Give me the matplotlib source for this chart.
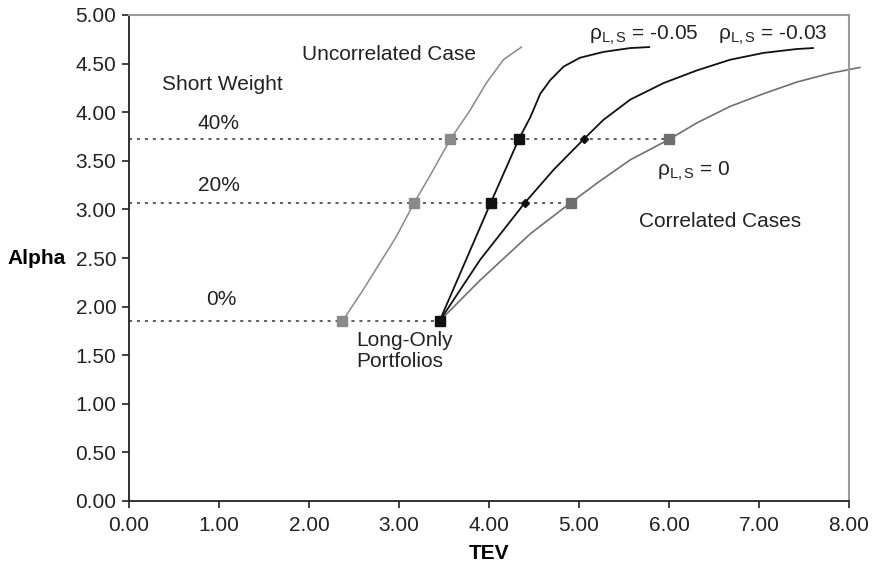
import matplotlib
matplotlib.use("Agg")
import matplotlib.pyplot as plt

plt.rcParams["font.family"] = ["Liberation Sans", "DejaVu Sans"]
plt.rcParams["mathtext.fontset"] = "custom"
plt.rcParams["mathtext.rm"] = "Liberation Sans"
plt.rcParams["mathtext.it"] = "Liberation Sans"

# Efficient-frontier curves (TEV, Alpha)
uncorr_tev = [2.37, 2.60, 2.97, 3.17, 3.34, 3.57, 3.79, 3.97, 4.16, 4.36]
uncorr_alpha = [1.85, 2.17, 2.72, 3.07, 3.34, 3.72, 4.02, 4.30, 4.54, 4.67]

rho005_tev = [3.45, 4.02, 4.33, 4.46, 4.57, 4.68, 4.83, 5.01, 5.27, 5.57, 5.78]
rho005_alpha = [1.85, 3.07, 3.72, 3.95, 4.19, 4.33, 4.47, 4.56, 4.62, 4.66, 4.67]

rho003_tev = [3.45, 3.90, 4.40, 4.72, 5.05, 5.27, 5.57, 5.94, 6.31, 6.68, 7.05, 7.42, 7.60]
rho003_alpha = [1.85, 2.48, 3.07, 3.41, 3.72, 3.92, 4.13, 4.30, 4.43, 4.54, 4.61, 4.65, 4.66]

rho0_tev = [3.45, 3.90, 4.46, 4.91, 5.20, 5.57, 6.00, 6.31, 6.68, 7.05, 7.42, 7.79, 8.12]
rho0_alpha = [1.85, 2.27, 2.75, 3.07, 3.27, 3.51, 3.72, 3.89, 4.06, 4.19, 4.31, 4.40, 4.46]

# Portfolio points at 0%, 20% and 40% short weight
weight_labels = ["0%", "20%", "40%"]
weight_alpha = [1.85, 3.07, 3.72]
uncorr_pts = [2.37, 3.17, 3.57]
rho005_pts = [3.45, 4.02, 4.33]
rho003_pts = [4.40, 5.05]
rho0_pts = [4.91, 6.00]

fig = plt.figure(figsize=(8.76, 5.76), dpi=100)
ax = fig.add_axes([129 / 876, 75 / 576, 720 / 876, 486 / 576])

# dotted reference levels
dot = dict(color="#333333", lw=1.1, linestyle=(0, (2, 3.2)), zorder=1)
ax.plot([0, rho005_pts[0]], [weight_alpha[0]] * 2, **dot)
ax.plot([0, rho0_pts[0]], [weight_alpha[1]] * 2, **dot)
ax.plot([0, rho0_pts[1]], [weight_alpha[2]] * 2, **dot)

ax.plot(uncorr_tev, uncorr_alpha, color="#8a8a8a", lw=1.1, zorder=2)
ax.plot(rho0_tev, rho0_alpha, color="#707070", lw=1.2, zorder=2, clip_on=False)
ax.plot(rho003_tev, rho003_alpha, color="#111111", lw=1.3, zorder=3)
ax.plot(rho005_tev, rho005_alpha, color="#111111", lw=1.3, zorder=3)

ax.plot(uncorr_pts, weight_alpha, ls="none", marker="s", ms=7, color="#8a8a8a", zorder=4)
ax.plot(rho0_pts, weight_alpha[1:], ls="none", marker="s", ms=7, color="#6e6e6e", zorder=4)
ax.plot(rho003_pts, weight_alpha[1:], ls="none", marker="D", ms=4.5, color="#111111", zorder=5)
ax.plot(rho005_pts, weight_alpha, ls="none", marker="s", ms=7.5, color="#111111", zorder=5)

fs = 15
ax.text(0.37, 4.29, "Short Weight", fontsize=fs, va="center", color="#222222")
ax.text(1.0, 3.88, weight_labels[2], fontsize=fs, ha="center", va="center", color="#222222")
ax.text(1.0, 3.25, weight_labels[1], fontsize=fs, ha="center", va="center", color="#222222")
ax.text(1.03, 2.07, weight_labels[0], fontsize=fs, ha="center", va="center", color="#222222")
ax.text(1.92, 4.59, "Uncorrelated Case", fontsize=fs, va="center", color="#222222")
ax.text(2.53, 1.75, "Long-Only\nPortfolios", fontsize=fs, va="top", ha="left",
        linespacing=1.15, color="#222222")
ax.text(5.11, 4.79, r"ρ$_{\mathrm{L,S}}$ = -0.05", fontsize=fs, va="center", color="#222222")
ax.text(6.54, 4.79, r"ρ$_{\mathrm{L,S}}$ = -0.03", fontsize=fs, va="center", color="#222222")
ax.text(5.87, 3.39, r"ρ$_{\mathrm{L,S}}$ = 0", fontsize=fs, va="center", color="#222222")
ax.text(5.67, 2.88, "Correlated Cases", fontsize=fs, va="center", color="#222222")

ax.set_xlim(0, 8)
ax.set_ylim(0, 5)
xt = [0, 1, 2, 3, 4, 5, 6, 7, 8]
yt = [0, 0.5, 1, 1.5, 2, 2.5, 3, 3.5, 4, 4.5, 5]
ax.set_xticks(xt)
ax.set_xticklabels([f"{v:.2f}" for v in xt])
ax.set_yticks(yt)
ax.set_yticklabels([f"{v:.2f}" for v in yt])
ax.tick_params(direction="out", length=5, width=1.2, labelsize=fs, colors="#222222", pad=4)
ax.tick_params(axis="x", pad=6)

for s in ("left", "bottom"):
    ax.spines[s].set_color("#222222")
    ax.spines[s].set_linewidth(1.3)
for s in ("top", "right"):
    ax.spines[s].set_color("#9a9a9a")
    ax.spines[s].set_linewidth(1.5)

ax.set_xlabel("TEV", fontsize=fs, fontweight="bold", labelpad=6)
ax.set_ylabel("Alpha", fontsize=fs, fontweight="bold", rotation=0, ha="right", va="center")
ax.yaxis.set_label_coords(-0.088, 0.5)

fig.savefig("out.png", dpi=100)
